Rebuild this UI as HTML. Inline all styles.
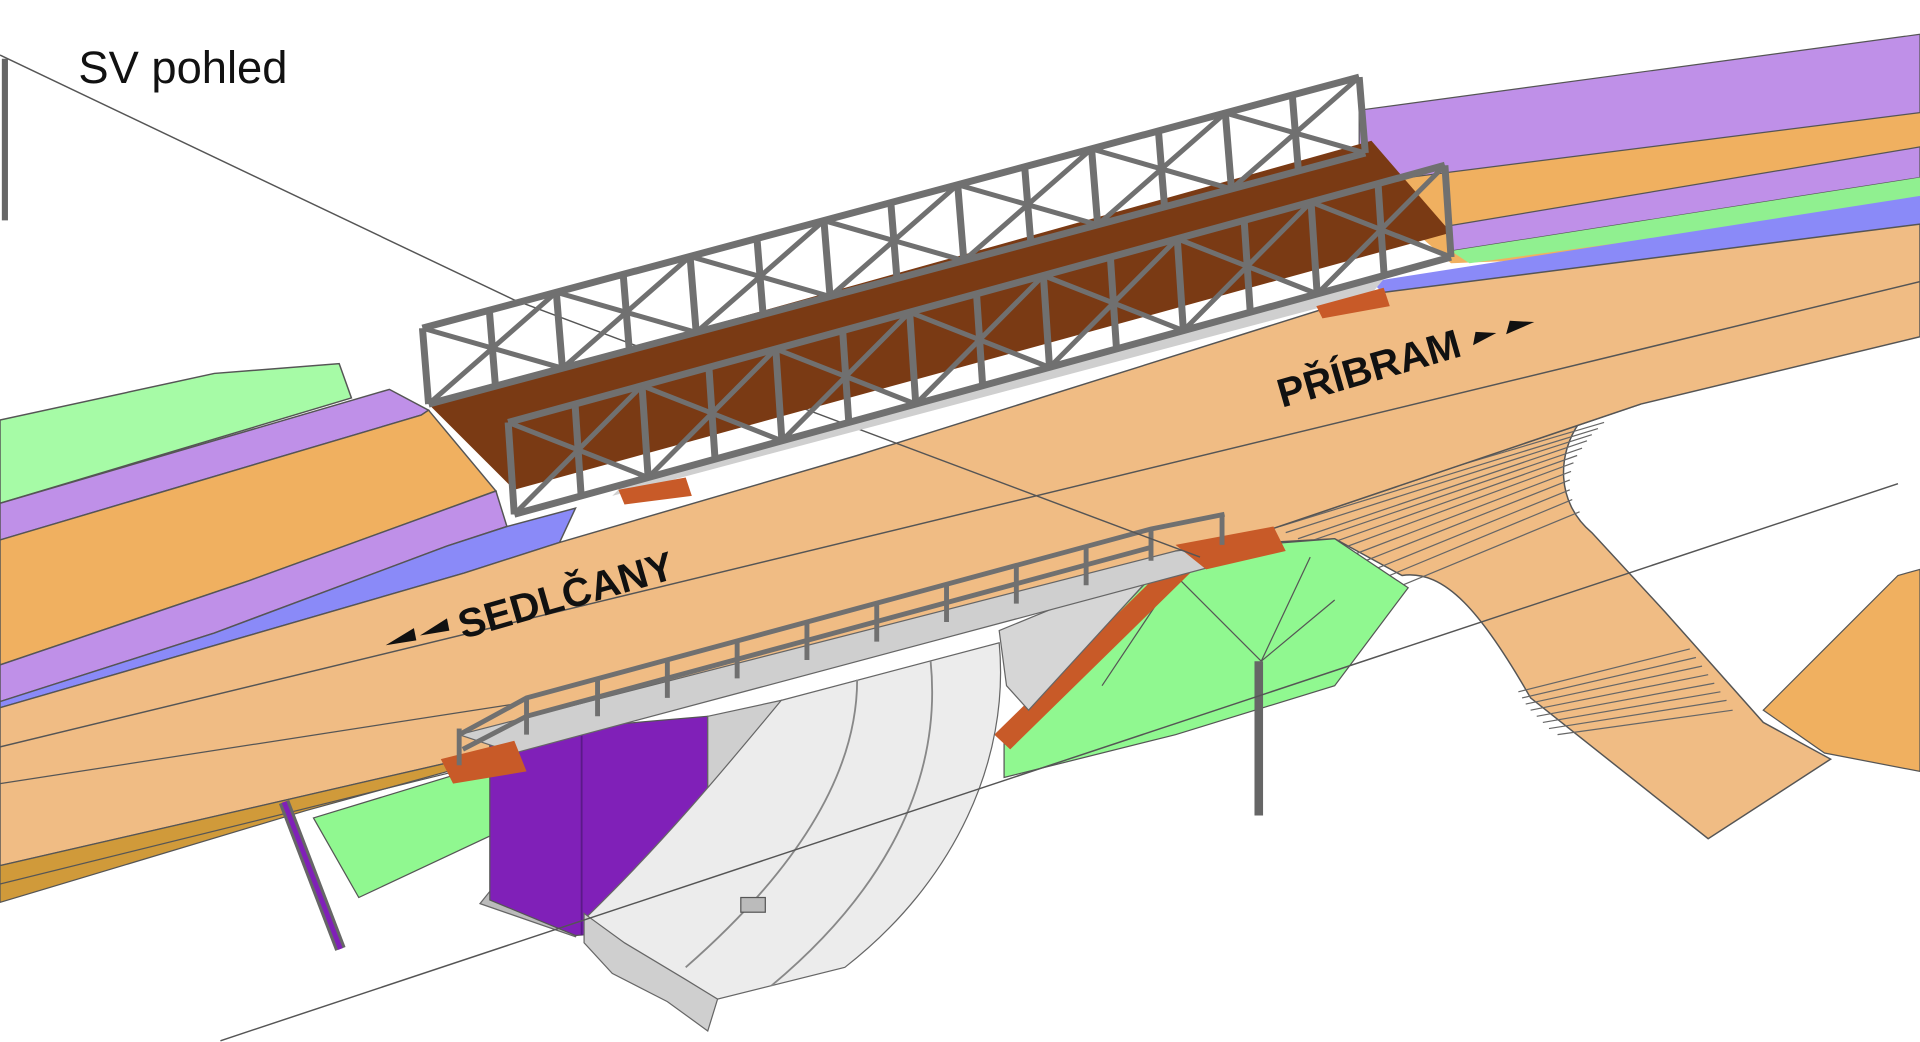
<!DOCTYPE html>
<html><head><meta charset="utf-8"><style>
html,body{margin:0;padding:0;background:#fff;width:1920px;height:1042px;overflow:hidden}
svg{display:block}
text{font-family:"Liberation Sans",sans-serif}
</style></head><body>
<svg width="1920" height="1042" viewBox="0 0 1568 851" preserveAspectRatio="none" xmlns="http://www.w3.org/2000/svg">
<rect width="1568" height="851" fill="#fff"/>
<!-- top-right bands -->
<polygon points="1110,90 1568,30 1568,200 1185,215 1110,150" fill="#f0b060"/>
<polygon points="1110,90 1568,28 1568,92 1110,150" fill="#bf90e8" stroke="#555" stroke-width="1"/>
<polygon points="1180,185 1568,120 1568,145 1185,205" fill="#bf90e8" stroke="#555" stroke-width="1"/>
<polygon points="1185,205 1568,145 1568,165 1200,215" fill="#90f090"/>
<polygon points="1120,230 1568,160 1568,185 1140,250" fill="#8a8af8"/>
<!-- left bands -->
<polygon points="0,343 175,305 277,297 287,325 0,411" fill="#a6fba6" stroke="#555" stroke-width="1.2"/>
<polygon points="0,411 318,318 350,335 344,339 0,441" fill="#bf90e8" stroke="#555" stroke-width="1.2"/>
<polygon points="0,441 344,339 350,335 405,401 204,474 0,543" fill="#f0b060" stroke="#555" stroke-width="1.2"/>
<polygon points="0,543 204,474 405,401 414,430 365,446 175,517 0,573" fill="#bf90e8" stroke="#555" stroke-width="1.2"/>
<polygon points="0,573 175,517 365,446 414,430 470,415 457,443 379,468 0,578" fill="#8a8af8" stroke="#555" stroke-width="1.2"/>
<!-- right slope / ramp (orange) -->
<path d="M1000,445 L1340,330 L1290,345 C1272,370 1270,410 1300,435 L1360,500 1440,590 1495,620 1395,685 1250,570 C1210,500 1180,465 1145,470 L1090,440 Z" fill="#f0bc84" stroke="#555" stroke-width="1.2"/>
<g stroke="#666" stroke-width="1">
<path d="M1040,425 L1310,345 M1045,430 L1305,350 M1050,435 L1300,355 M1060,440 L1296,360 M1070,442 L1292,366 M1080,446 L1288,372 M1090,450 L1285,378 M1100,455 L1283,385 M1110,460 L1282,392 M1120,466 L1282,400 M1130,472 L1284,408 M1145,478 L1290,418"/>
<path d="M1240,565 L1380,530 M1243,570 L1385,537 M1246,575 L1390,544 M1250,580 L1395,551 M1255,585 L1400,558 M1260,590 L1405,565 M1265,595 L1410,572 M1272,600 L1415,580"/>
</g>
<!-- main road -->
<polygon points="0,578 379,468 457,443 700,372 1120,240 1568,183 1568,275 1340,330 1000,445 640,545 420,610 370,622 0,707" fill="#f0bc84" stroke="#555" stroke-width="1.2"/>
<line x1="0" y1="610" x2="1568" y2="230" stroke="#555" stroke-width="1.2"/>
<line x1="0" y1="640" x2="420" y2="575" stroke="#555" stroke-width="1"/>
<polygon points="1440,580 1550,470 1568,465 1568,630 1490,615" fill="#f0b060" stroke="#555" stroke-width="1"/>
<!-- bottom-left orange strip -->
<polygon points="0,707 370,622 420,615 250,662 0,737" fill="#d09a3a" stroke="#555" stroke-width="1"/>
<line x1="0" y1="722" x2="380" y2="628" stroke="#555" stroke-width="1"/>
<!-- green embankments -->
<polygon points="820,600 960,450 1090,440 1150,480 1090,560 960,600 820,635" fill="#90f890" stroke="#555" stroke-width="1"/>
<g stroke="#555" stroke-width="1"><line x1="960" y1="470" x2="1030" y2="540"/><line x1="1070" y1="455" x2="1030" y2="540"/><line x1="1030" y1="540" x2="1090" y2="490"/><line x1="900" y1="560" x2="960" y2="470"/></g>
<polygon points="256,668 430,615 540,600 470,650 293,733" fill="#90f890" stroke="#555" stroke-width="1"/>
<polygon points="812,600 960,455 975,465 825,612" fill="#c85a28"/>
<!-- culvert -->
<polygon points="392,738 470,765 478,748 400,728" fill="#bbb" stroke="#666"/>
<polygon points="400,600 520,590 578,585 578,755 470,764 400,735" fill="#8020b8" stroke="#555"/>
<line x1="475" y1="600" x2="475" y2="764" stroke="#5a1a88" stroke-width="1.5"/>
<polygon points="578,585 638,572 600,660 578,700" fill="#cfcfcf" stroke="#666"/>
<path d="M638,572 L816,525 C825,620 780,720 690,790 L586,816 L477,751 C540,690 590,630 638,572 Z" fill="#ececec" stroke="#666"/>
<path d="M700,555 C700,640 640,720 560,790 M760,540 C770,640 720,730 630,805" fill="none" stroke="#888" stroke-width="1.5"/>
<polygon points="477,746 510,770 560,800 586,816 578,842 545,818 500,795 477,770" fill="#cfcfcf" stroke="#666"/>
<polygon points="816,515 950,460 840,580 822,560" fill="#d6d6d6" stroke="#666"/>
<rect x="605" y="733" width="20" height="12" fill="#bbb" stroke="#555"/>
<!-- lower bridge deck + railing -->
<polygon points="375,600 960,450 1000,445 1000,460 420,615" fill="#cfcfcf" stroke="#666"/>
<polygon points="360,620 420,605 430,630 370,640" fill="#c85a28"/>
<polygon points="960,445 1040,430 1050,450 985,465" fill="#c85a28"/>
<g stroke="#707070" stroke-width="4" fill="none">
<polyline points="375,600 430,570 940,432 1000,420"/>
<polyline points="378,612 430,585 940,447"/>
<line x1="375" y1="595" x2="375" y2="625"/>
<path d="M430 570v30M488 555v30M545 540v30M602 524v30M659 509v30M716 494v30M773 478v30M830 463v30M887 448v30M940 433v25M998 420v25"/>
</g>
<!-- poles -->
<line x1="1028" y1="540" x2="1028" y2="666" stroke="#666" stroke-width="7"/>
<line x1="4" y1="48" x2="4" y2="180" stroke="#666" stroke-width="5"/>
<line x1="232" y1="655" x2="278" y2="775" stroke="#666" stroke-width="9"/>
<line x1="232" y1="655" x2="278" y2="775" stroke="#8020b8" stroke-width="4"/>
<!-- thin lines -->
<g stroke="#555" stroke-width="1.2">
<line x1="0" y1="45" x2="420" y2="245"/>
<line x1="420" y1="245" x2="980" y2="455"/>
<line x1="180" y1="850" x2="1550" y2="395"/>
</g>
<!-- deck -->
<polygon points="350,330 1120,115 1185,190 420,400" fill="#7a3a14"/>
<polygon points="500,405 1120,240 1130,228 510,395" fill="#cfcfcf"/>
<polygon points="505,400 560,390 565,405 510,412" fill="#c85a28"/>
<polygon points="1075,250 1130,235 1135,250 1080,260" fill="#c85a28"/>
<!-- back truss -->
<g transform="matrix(765,-205,-5,-62,350,330)" fill="none" stroke="#707070">
<path vector-effect="non-scaling-stroke" stroke-width="7" d="M0 0L1 0M0 1L1 1M0 0V1M.0714 0V1M.1429 0V1M.2143 0V1M.2857 0V1M.3571 0V1M.4286 0V1M.5 0V1M.5714 0V1M.6429 0V1M.7143 0V1M.7857 0V1M.8571 0V1M.9286 0V1M1 0V1"/>
<path vector-effect="non-scaling-stroke" stroke-width="5" d="M0 0L.1429 1M.1429 0L0 1M.1429 0L.2857 1M.2857 0L.1429 1M.2857 0L.4286 1M.4286 0L.2857 1M.4286 0L.5714 1M.5714 0L.4286 1M.5714 0L.7143 1M.7143 0L.5714 1M.7143 0L.8571 1M.8571 0L.7143 1M.8571 0L1 1M1 0L.8571 1"/>
</g>
<!-- front truss -->
<g transform="matrix(765,-210,-5,-75,420,420)" fill="none" stroke="#707070">
<path vector-effect="non-scaling-stroke" stroke-width="7" d="M0 0L1 0M0 1L1 1M0 0V1M.0714 0V1M.1429 0V1M.2143 0V1M.2857 0V1M.3571 0V1M.4286 0V1M.5 0V1M.5714 0V1M.6429 0V1M.7143 0V1M.7857 0V1M.8571 0V1M.9286 0V1M1 0V1"/>
<path vector-effect="non-scaling-stroke" stroke-width="5" d="M0 0L.1429 1M.1429 0L0 1M.1429 0L.2857 1M.2857 0L.1429 1M.2857 0L.4286 1M.4286 0L.2857 1M.4286 0L.5714 1M.5714 0L.4286 1M.5714 0L.7143 1M.7143 0L.5714 1M.7143 0L.8571 1M.8571 0L.7143 1M.8571 0L1 1M1 0L.8571 1"/>
</g>
<!-- labels -->
<text x="64" y="68" font-size="37" fill="#111">SV pohled</text>
<text transform="translate(378,522) rotate(-16)" font-size="33" font-weight="bold" fill="#111">SEDLČANY</text>
<polygon points="315,527 338,513 340,523" fill="#111"/>
<polygon points="343,519 365,505 367,515" fill="#111"/>
<text transform="translate(1047,333) rotate(-16)" font-size="33" font-weight="bold" fill="#111">PŘÍBRAM</text>
<polygon points="1203,282 1222,272 1205,271" fill="#111"/>
<polygon points="1230,273 1253,263 1233,262" fill="#111"/>
</svg>
</body></html>
